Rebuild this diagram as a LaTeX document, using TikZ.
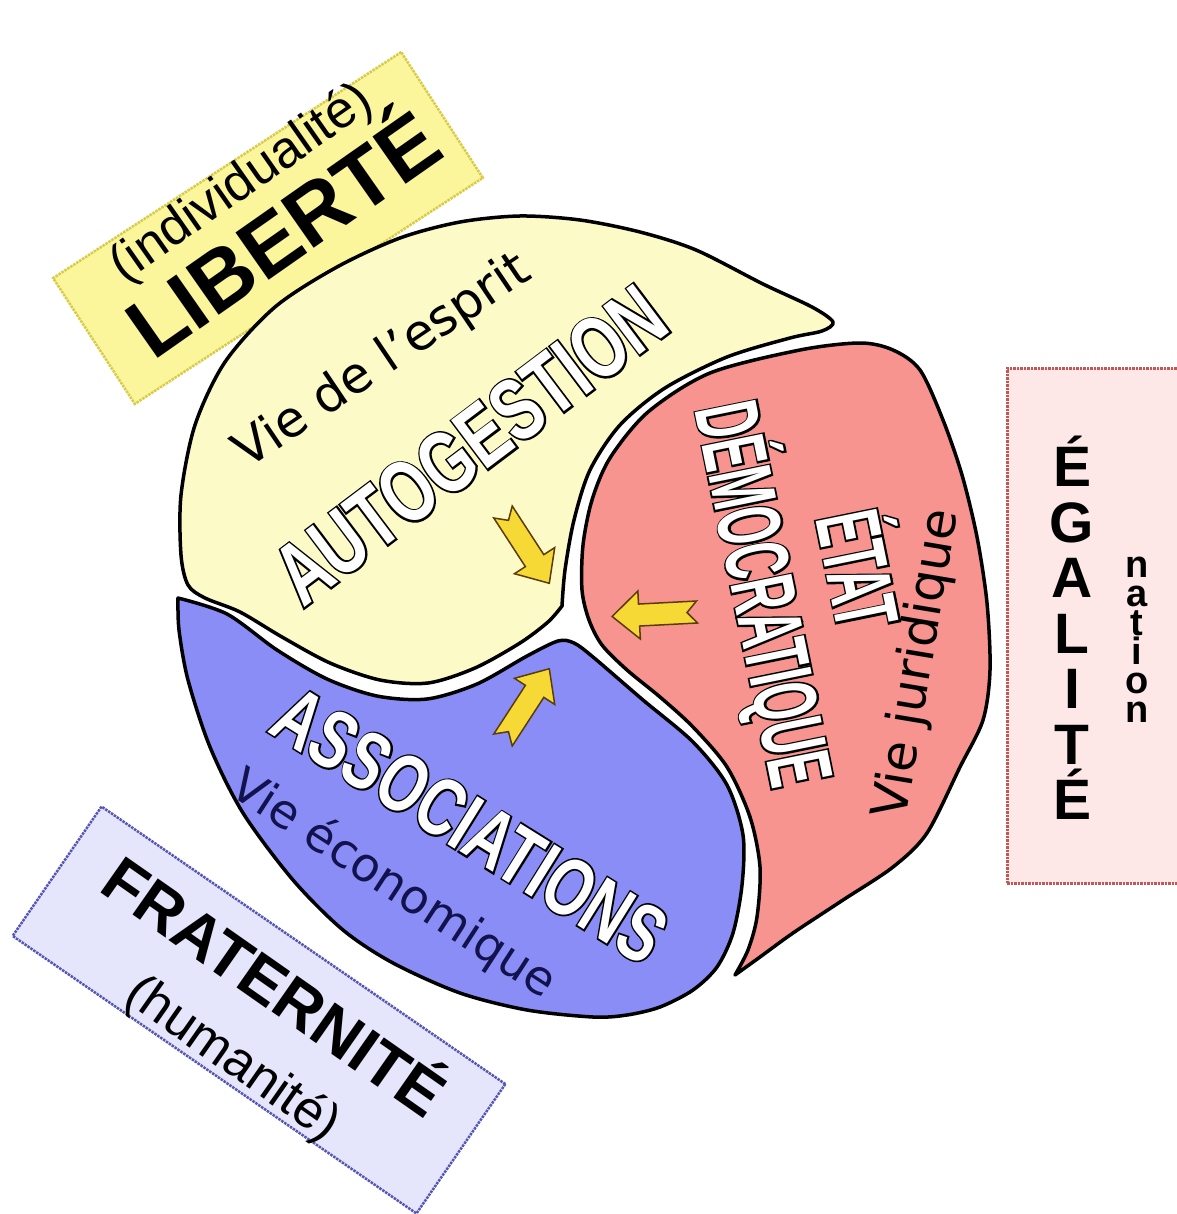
\documentclass[tikz,border=0pt]{standalone}
\usepackage{fontspec}
\setmainfont{Liberation Sans}
\newfontfamily\viefont{DejaVu Sans}
\newfontfamily\narrowfont{Liberation Sans}[UprightFont=* Bold,FakeStretch=0.72]
\newfontfamily\narrowline{Liberation Sans}[UprightFont=* Bold,FakeStretch=0.72,FakeBold=4]
\newfontfamily\tallfont{Liberation Sans}[UprightFont=* Bold,FakeStretch=0.53]
\newfontfamily\tallline{Liberation Sans}[UprightFont=* Bold,FakeStretch=0.53,FakeBold=4]
\newcommand{\narrowword}[1]{\rlap{\color{black}\narrowline #1}{\color{white}\narrowfont #1}}
\newcommand{\tallword}[1]{\rlap{\color{black}\tallline #1}{\color{white}\tallfont #1}}
\definecolor{yellowpart}{HTML}{FCFAC6}
\definecolor{redpart}{HTML}{F8948F}
\definecolor{bluepart}{HTML}{8A8DF6}
\definecolor{libfill}{HTML}{FBF59C}
\definecolor{libline}{HTML}{D8CB45}
\definecolor{frafill}{HTML}{E5E5FB}
\definecolor{fraline}{HTML}{5555B5}
\definecolor{egafill}{HTML}{FDE7E7}
\definecolor{egaline}{HTML}{C05858}
\definecolor{arrowfill}{HTML}{F6D935}
\definecolor{arrowline}{HTML}{5A3C08}
\definecolor{navy}{HTML}{12124E}
\newcommand{\yarrow}[2]{%
  \begin{scope}[shift={#1},rotate=#2]
    \filldraw[fill=arrowfill,draw=arrowline,line width=1.5pt]
      (0,11) -- (58,11) -- (58,24) -- (85,0) -- (58,-24) -- (58,-11) -- (0,-11) -- (10,0) -- cycle;
  \end{scope}}
\begin{document}
\begin{tikzpicture}[x=1pt,y=-1pt,
    part/.style={line width=3.5pt,line join=round},
    titlebox/.style={densely dotted,line width=2.5pt},
    vie/.style={font=\viefont\fontsize{50}{50}\selectfont}]
      \useasboundingbox (0,0) rectangle (1176,1214);
      \node[titlebox,draw=libline,fill=libfill,rotate=33,minimum width=415pt,minimum height=150pt] (libbox) at (268,228) {};
      \node[rotate=35,font=\fontsize{52}{52}\selectfont] (indiv) at (242,184) {(individualité)};
      \node[rotate=35,font=\bfseries\fontsize{84}{84}\selectfont] (liberte) at (279,228) {LIBERTÉ};
      \node[titlebox,draw=fraline,fill=frafill,rotate=-34.5,minimum width=490pt,minimum height=157pt] (frabox) at (259,1010) {};
      \node[rotate=-35,font=\bfseries\fontsize{64}{64}\selectfont] (fraternite) at (278,982) {FRATERNITÉ};
      \node[rotate=-35,font=\fontsize{52}{52}\selectfont] (humanite) at (232,1060) {(humanité)};
      \node[titlebox,draw=egaline,fill=egafill,anchor=north west,minimum width=200pt,minimum height=515pt] (egabox) at (1006,367) {};
      \node[font=\bfseries\fontsize{57}{55.5}\selectfont,align=center,inner sep=0pt] (egalite) at (1072,628) {É\\G\\A\\L\\I\\T\\É};
      \node[font=\bfseries\fontsize{38}{29}\selectfont,align=center,inner sep=0pt] (nation) at (1137,640) {n\\a\\t\\i\\o\\n};
      \filldraw[part,fill=yellowpart] plot[smooth] coordinates {(562,606) (565,570) (574,520) (590,470) (620,425) (665,388) (727,357) (790,338) (822,331) (833,322) (812,307) (763,284) (696,250) (640,232) (580,220) (520,216) (460,222) (400,238) (337,267) (275,307) (225,362) (195,425) (181,495) (181,555) (188,585) (205,598) (240,612) (282,637) (330,663) (380,680) (428,683) (475,668) (520,643) (548,622) (562,606)} -- cycle;
      \filldraw[part,fill=redpart] plot[smooth] coordinates {(735,975) (748,950) (757,917) (760,867) (750,817) (727,767) (693,727) (660,697) (627,670) (602,645) (589,620) (582,590) (583,545) (592,500) (610,458) (648,412) (710,373) (800,350) (860,343) (893,350) (920,370) (943,420) (962,475) (977,537) (987,603) (990,670) (983,720) (960,767) (927,833) (893,867) (843,900) (793,933) (760,957) (735,975)} -- cycle;
      \filldraw[part,fill=bluepart] plot[smooth] coordinates {(178,598) (227,614) (277,650) (327,679) (377,696) (427,699) (477,684) (527,656) (558,641) (574,643) (593,657) (643,700) (693,742) (727,785) (743,835) (742,885) (733,933) (717,967) (693,990) (660,1007) (627,1015) (593,1017) (527,1010) (460,993) (393,963) (343,930) (293,880) (243,813) (210,747) (188,680) (179,630) (178,598)} -- cycle;
      \yarrow{(503,512)}{-57}
      \yarrow{(697,612)}{183}
      \yarrow{(503,740)}{57}
      \node[vie,rotate=34] (esprit) at (383,362) {Vie de l’esprit};
      \node[rotate=37,font=\fontsize{88}{88}\selectfont] (autogestion) at (470,445) {\narrowword{AUTOGESTION}};
      \node[rotate=-78.5,font=\fontsize{90}{90}\selectfont] (etat) at (866,568) {\tallword{ÉTAT}};
      \node[rotate=-78.5,font=\fontsize{90}{90}\selectfont] (democratique) at (764,594) {\tallword{DÉMOCRATIQUE}};
      \node[vie,rotate=80.5] (juridique) at (918,664) {Vie juridique};
      \node[rotate=-32,font=\fontsize{82}{82}\selectfont] (associations) at (470,825) {\narrowword{ASSOCIATIONS}};
      \node[vie,text=navy,font=\viefont\fontsize{47}{47}\selectfont,rotate=-33] (economique) at (393,885) {Vie économique};
\end{tikzpicture}
\end{document}
